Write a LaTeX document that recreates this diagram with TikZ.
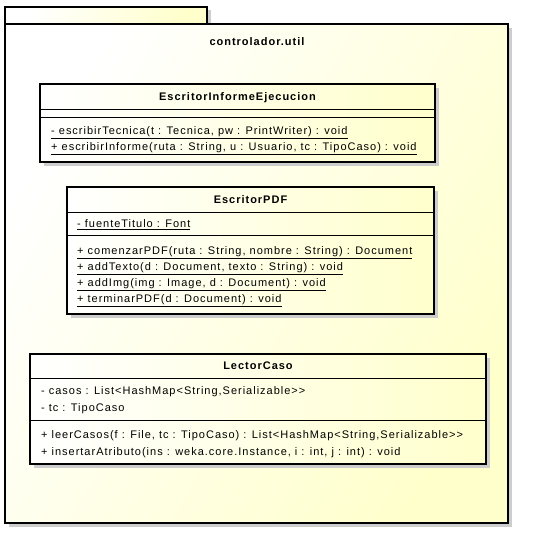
\documentclass[tikz,border=0pt]{standalone}
\usepackage{fontspec}
\setmainfont{Liberation Sans}[LetterSpace=9]
\usetikzlibrary{calc}
\definecolor{umlyellow}{RGB}{255,255,204}
\definecolor{shadowgray}{RGB}{205,205,205}
\tikzset{
  pkgbox/.style={draw=black, line width=1.6pt, left color=white, right color=umlyellow, shading angle=60, inner sep=0pt, outer sep=0pt, anchor=north west},
  classbox/.style={draw=black, line width=1.6pt, left color=white, right color=umlyellow, inner sep=0pt, outer sep=0pt, anchor=north west},
  shadowbox/.style={fill=shadowgray, draw=none, inner sep=0pt, outer sep=0pt, anchor=north west},
  sepline/.style={draw=black, line width=0.8pt},
  member/.style={anchor=base west, inner sep=0pt, font=\fontsize{11}{13}\selectfont},
  classtitle/.style={anchor=base, inner sep=0pt, font=\fontsize{11}{13}\selectfont\bfseries},
}
\newcommand{\ul}[1]{\underline{#1}}
\begin{document}
\begin{tikzpicture}[x=1pt,y=-1pt]
\useasboundingbox (0,0) rectangle (549,545);
% package
\node[shadowbox, minimum width=202, minimum height=17] (tabsh) at (9,10) {};
\node[shadowbox, minimum width=503, minimum height=499] (pkgsh) at (9,28) {};
\node[pkgbox, minimum width=202, minimum height=17] (tab) at (5,7) {};
\node[pkgbox, minimum width=503, minimum height=499] (pkg) at (5,24) {};
\node[classtitle] (pkgname) at (257,46) {controlador.util};

% EscritorInformeEjecucion
\node[shadowbox, minimum width=395, minimum height=78] (eiesh) at (44,88) {};
\node[classbox, minimum width=395, minimum height=78] (eie) at (40,84) {};
\draw[sepline] (40,109) -- (435,109);
\draw[sepline] (40,117) -- (435,117);
\node[classtitle] (eiet) at (237.5,101) {EscritorInformeEjecucion};
\node[member] (eie1) at (51,135) {\ul{- escribirTecnica(t : Tecnica, pw : PrintWriter) : void}};
\node[member] (eie2) at (51,151) {\ul{+ escribirInforme(ruta : String, u : Usuario, tc : TipoCaso) : void}};

% EscritorPDF
\node[shadowbox, minimum width=367, minimum height=127] (pdfsh) at (71,191) {};
\node[classbox, minimum width=367, minimum height=127] (pdf) at (67,187) {};
\draw[sepline] (67,212) -- (434,212);
\draw[sepline] (67,235) -- (434,235);
\node[classtitle] (pdft) at (250.5,203.5) {EscritorPDF};
\node[member] (pdfa) at (77,228) {\ul{- fuenteTitulo : Font}};
\node[member] (pdf1) at (77,255) {\ul{+ comenzarPDF(ruta : String, nombre : String) : Document}};
\node[member] (pdf2) at (77,271) {\ul{+ addTexto(d : Document, texto : String) : void}};
\node[member] (pdf3) at (77,287) {\ul{+ addImg(img : Image, d : Document) : void}};
\node[member] (pdf4) at (77,303) {\ul{+ terminarPDF(d : Document) : void}};

% LectorCaso
\node[shadowbox, minimum width=456, minimum height=110] (lcsh) at (34,358) {};
\node[classbox, minimum width=456, minimum height=110] (lc) at (30,354) {};
\draw[sepline] (30,378) -- (486,378);
\draw[sepline] (30,420) -- (486,420);
\node[classtitle] (lct) at (258,370) {LectorCaso};
\node[member] (lca1) at (41,395) {- casos : List<HashMap<String,Serializable>{}>};
\node[member] (lca2) at (41,411) {- tc : TipoCaso};
\node[member] (lco1) at (41,438) {+ leerCasos(f : File, tc : TipoCaso) : List<HashMap<String,Serializable>{}>};
\node[member] (lco2) at (41,455) {+ insertarAtributo(ins : weka.core.Instance, i : int, j : int) : void};
\end{tikzpicture}
\end{document}
